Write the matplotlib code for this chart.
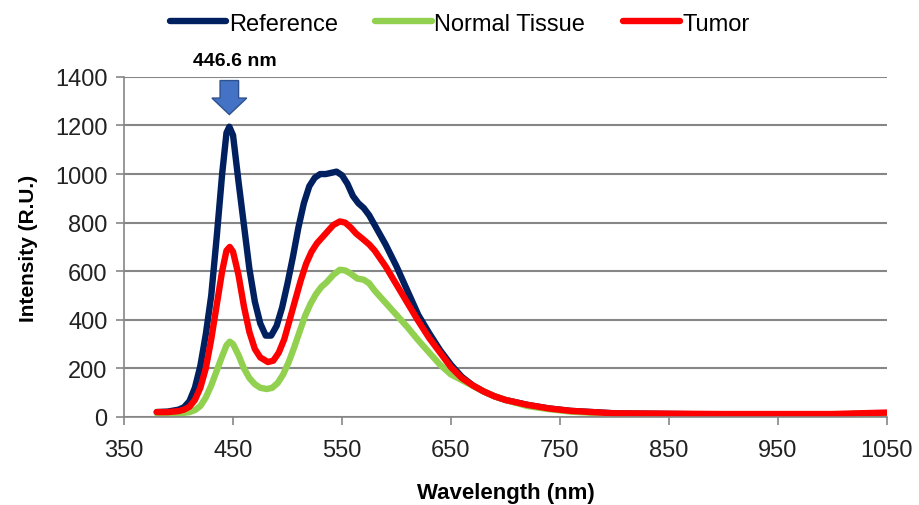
import matplotlib
matplotlib.use('Agg')
import matplotlib.pyplot as plt

plt.rcParams['font.family'] = ['Liberation Sans', 'DejaVu Sans']

ref_x = [380, 390, 400, 405, 410, 415, 420, 425, 430, 435, 440, 444, 446.6, 450, 455,
         460, 465, 470, 475, 480, 485, 490, 495, 500, 505, 510, 515, 520, 525, 530,
         535, 540, 545, 550, 555, 560, 565, 570, 575, 580, 590, 600, 610, 620, 630,
         640, 650, 660, 670, 680, 690, 700, 720, 740, 760, 800, 900, 1000, 1050]
ref_y = [20, 22, 30, 40, 65, 120, 210, 340, 500, 740, 1000, 1170, 1195, 1160, 970,
         790, 610, 475, 385, 335, 335, 375, 450, 550, 660, 780, 880, 950, 985, 1000,
         1000, 1005, 1010, 995, 960, 910, 880, 860, 830, 790, 710, 620, 520, 420, 345,
         275, 215, 165, 130, 105, 85, 70, 50, 35, 25, 15, 10, 10, 15]

tum_x = [380, 390, 400, 405, 410, 415, 420, 425, 430, 435, 440, 444, 447, 450, 455,
         460, 465, 470, 475, 482, 487, 492, 497, 502, 507, 512, 517, 522, 527, 532,
         537, 542, 548, 553, 558, 563, 569, 575, 580, 590, 600, 610, 620, 630, 640,
         650, 660, 670, 680, 690, 700, 720, 740, 760, 800, 900, 1000, 1050]
tum_y = [20, 20, 24, 30, 42, 70, 120, 200, 320, 460, 600, 685, 700, 680, 585,
         455, 350, 280, 245, 226, 232, 265, 320, 400, 480, 560, 630, 680, 715, 740,
         765, 790, 805, 800, 780, 755, 733, 710, 685, 620, 545, 470, 395, 325, 265,
         205, 160, 130, 105, 85, 70, 50, 35, 25, 15, 12, 12, 18]

nor_x = [380, 390, 400, 405, 410, 415, 420, 425, 430, 435, 440, 444, 447, 450, 455,
         460, 465, 470, 475, 481, 486, 491, 496, 501, 506, 511, 516, 521, 526, 531,
         536, 542, 548, 553, 558, 564, 570, 575, 580, 590, 600, 610, 619, 630, 640,
         650, 665, 680, 690, 700, 720, 740, 760, 800, 900, 1000, 1050]
nor_y = [15, 15, 15, 17, 20, 28, 45, 80, 130, 190, 250, 295, 310, 300, 255,
         200, 160, 135, 120, 115, 120, 140, 175, 225, 285, 350, 415, 465, 505, 535,
         555, 585, 606, 603, 590, 570, 565, 550, 520, 470, 420, 370, 321, 265, 215,
         175, 140, 105, 85, 70, 45, 32, 22, 12, 10, 10, 15]

fig = plt.figure(figsize=(9.19, 5.06), dpi=100)
ax = fig.add_axes([0.135, 0.174, 0.83, 0.672])

ax.plot(ref_x, ref_y, color='#002060', lw=4.6, label='Reference', solid_capstyle='round')
ax.plot(nor_x, nor_y, color='#92D050', lw=4.6, label='Normal Tissue', solid_capstyle='round')
ax.plot(tum_x, tum_y, color='#FF0000', lw=4.6, label='Tumor', solid_capstyle='round')

ax.set_xlim(350, 1050)
ax.set_ylim(0, 1400)
ax.set_xticks(range(350, 1051, 100))
ax.set_yticks(range(0, 1401, 200))
ax.yaxis.grid(True, color='#868686', lw=1.5)
ax.set_axisbelow(True)
for s in ['top', 'right']:
    ax.spines[s].set_visible(False)
for s in ['left', 'bottom']:
    ax.spines[s].set_color('#868686')
    ax.spines[s].set_linewidth(1.2)
ax.tick_params(axis='both', labelsize=17, color='#868686', length=6, width=1.2,
               labelcolor='#222222')
ax.tick_params(axis='y', pad=6)
ax.tick_params(axis='x', pad=10)
ax.set_xlabel('Wavelength (nm)', fontsize=16, fontweight='bold', labelpad=15)
ax.set_ylabel('Intensity (R.U.)', fontsize=15, fontweight='bold', labelpad=12)

# blue arrow marking the 446.6 nm peak
ax.arrow(446.6, 1385, 0, -140, width=17, head_width=32, head_length=68,
         length_includes_head=True, fc='#4472C4', ec='#2F528F', lw=1, clip_on=False)
ax.text(452, 1468, '446.6 nm', fontsize=14, fontweight='bold',
        ha='center', va='center', clip_on=False)

fig.legend(loc='upper center', bbox_to_anchor=(0.5, 1.015), ncol=3, frameon=False,
           fontsize=17, handlelength=2.4, handletextpad=0.1, columnspacing=1.6)

fig.savefig('out.png', dpi=100)
